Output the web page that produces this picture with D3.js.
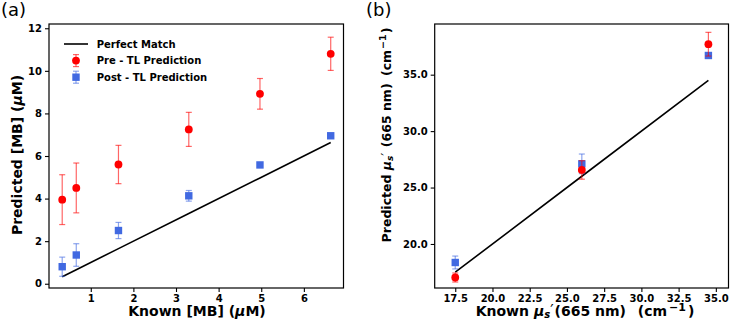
<!DOCTYPE html>
<html>
<head>
<meta charset="utf-8">
<script src="https://cdn.jsdelivr.net/npm/d3@7"></script>
<style>
body { margin: 0; background: #fff; }
text { font-family: "DejaVu Sans", sans-serif; white-space: pre; }
</style>
</head>
<body>
<svg id="fig" width="732" height="326"></svg>
<script>
// panel (a): methylene blue concentration
let mbKnown = [0.33, 0.66, 1.65, 3.3, 4.97, 6.63];
let mbPre = [3.95, 4.5, 5.6, 7.25, 8.92, 10.8];
let mbPreErr = [1.17, 1.17, 0.9, 0.8, 0.72, 0.78];
let mbPost = [0.8, 1.35, 2.5, 4.13, 5.58, 6.95];
let mbPostErr = [0.45, 0.53, 0.38, 0.25, 0.08, 0.08];
let mbTicksX = [1, 2, 3, 4, 5, 6];
let mbTicksY = [0, 2, 4, 6, 8, 10, 12];

// panel (b): reduced scattering at 665 nm
let musKnown = [17.5, 26, 34.5];
let musPre = [17.03, 26.56, 37.7];
let musPreErr = [0.4, 0.82, 1.05];
let musPost = [18.36, 27.1, 36.7];
let musPostErr = [0.57, 0.87, 0.2];
let musTicksX = [17.5, 20, 22.5, 25, 27.5, 30, 32.5, 35];
let musTicksY = [20, 25, 30, 35];

let legendLabels = ["Perfect Match", "Pre - TL Prediction", "Post - TL Prediction"];

let red = "#ff0000",
    blue = "#4169e1";

let svg = d3.select("#fig");

function richText(sel, parts) {
    parts.forEach(function (p) {
        if (typeof p === "string") p = { t: p };
        let ts = sel.append("tspan").text(p.t);
        if (p.i) ts.attr("font-style", "italic");
        if (p.fs) ts.attr("font-size", p.fs);
        if (p.fw) ts.attr("font-weight", p.fw);
        if (p.dy) ts.attr("dy", p.dy);
        if (p.dx) ts.attr("dx", p.dx);
    });
}

function drawPanel(cfg) {
    let g = svg.append("g");
    let x = d3.scaleLinear().domain(cfg.xDomain).range([cfg.left, cfg.right]);
    let y = d3.scaleLinear().domain(cfg.yDomain).range([cfg.bottom, cfg.top]);

    g.append("g")
        .attr("transform", "translate(0," + cfg.bottom + ")")
        .call(d3.axisBottom(x).tickValues(cfg.ticksX).tickFormat(cfg.fmt).tickSize(4).tickPadding(3));
    g.append("g")
        .attr("transform", "translate(" + cfg.left + ",0)")
        .call(d3.axisLeft(y).tickValues(cfg.ticksY).tickFormat(cfg.fmt).tickSize(4).tickPadding(3));
    g.selectAll(".domain").remove();
    g.selectAll(".tick line").attr("stroke", "#000").attr("stroke-width", 1.1);
    g.selectAll(".tick text")
        .attr("font-family", "DejaVu Sans")
        .attr("font-weight", "bold")
        .attr("font-size", 10)
        .attr("fill", "#000");

    // frame
    g.append("rect")
        .attr("x", cfg.left).attr("y", cfg.top)
        .attr("width", cfg.right - cfg.left).attr("height", cfg.bottom - cfg.top)
        .attr("fill", "none").attr("stroke", "#000").attr("stroke-width", 1.2);

    // perfect match line
    let ln = d3.line().x((d) => x(d)).y((d) => y(d));
    g.append("path")
        .attr("d", ln(cfg.known))
        .attr("fill", "none")
        .attr("stroke", "#000")
        .attr("stroke-width", 1.6);

    function errorBars(vals, errs, color) {
        let eb = g.append("g").attr("stroke", color).attr("stroke-opacity", 0.6).attr("stroke-width", 1.2);
        cfg.known.forEach(function (k, i) {
            let cx = x(k);
            eb.append("line").attr("x1", cx).attr("x2", cx)
                .attr("y1", y(vals[i] - errs[i])).attr("y2", y(vals[i] + errs[i]));
            [vals[i] - errs[i], vals[i] + errs[i]].forEach(function (v) {
                eb.append("line").attr("x1", cx - 3).attr("x2", cx + 3)
                    .attr("y1", y(v)).attr("y2", y(v));
            });
        });
    }

    function squares(vals) {
        g.selectAll(null).data(vals).enter().append("rect")
            .attr("x", (d, i) => x(cfg.known[i]) - 3.7)
            .attr("y", (d) => y(d) - 3.7)
            .attr("width", 7.4).attr("height", 7.4)
            .attr("fill", blue);
    }
    function circles(vals) {
        g.selectAll(null).data(vals).enter().append("circle")
            .attr("cx", (d, i) => x(cfg.known[i]))
            .attr("cy", (d) => y(d))
            .attr("r", 3.9)
            .attr("fill", red);
    }

    errorBars(cfg.post, cfg.postErr, blue);
    squares(cfg.post);
    errorBars(cfg.pre, cfg.preErr, red);
    circles(cfg.pre);

    // axis labels
    let xl = g.append("text")
        .attr("x", cfg.xLabelX)
        .attr("y", 316)
        .attr("text-anchor", "middle")
        .attr("font-weight", "bold")
        .attr("font-size", 14);
    richText(xl, cfg.xLabel);

    let yl = g.append("text")
        .attr("transform", "translate(" + cfg.yLabelX + "," + cfg.yLabelY + ") rotate(-90)")
        .attr("text-anchor", "middle")
        .attr("font-weight", "bold")
        .attr("font-size", cfg.yLabelSize);
    richText(yl, cfg.yLabel);

    svg.append("text")
        .attr("x", cfg.tagX).attr("y", 16)
        .attr("font-family", "Liberation Sans")
        .attr("font-size", 18)
        .text(cfg.tag);

    return g;
}

let gA = drawPanel({
    left: 49, right: 343.5, top: 24, bottom: 288,
    xDomain: [0.02, 6.93], yDomain: [-0.2, 12.2],
    ticksX: mbTicksX, ticksY: mbTicksY, fmt: d3.format("d"),
    known: mbKnown, pre: mbPre, preErr: mbPreErr, post: mbPost, postErr: mbPostErr,
    xLabel: ["Known [MB] (", { t: "μ", i: true }, "M)"],
    xLabelX: 197,
    yLabel: ["Predicted [MB] (", { t: "μ", i: true }, "M)"],
    yLabelX: 22, yLabelY: 155, yLabelSize: 14,
    tag: "(a)", tagX: 1
});

drawPanel({
    left: 434.7, right: 728.5, top: 24, bottom: 288,
    xDomain: [16.12, 35.85], yDomain: [16.1, 39.49],
    ticksX: musTicksX, ticksY: musTicksY, fmt: d3.format(".1f"),
    known: musKnown, pre: musPre, preErr: musPreErr, post: musPost, postErr: musPostErr,
    xLabel: ["Known ", { t: "μ", i: true }, { t: "s", i: true, fs: 10, dy: 2 },
        { t: "′", fs: 15, fw: "normal", dy: -2 },
        { t: "(665 nm)", dx: 1 }, { t: "  (cm", dx: 2 }, { t: "−1", fs: 11, dy: -5, dx: 2 }, { t: ")", dy: 5, dx: 2 }],
    xLabelX: 585,
    yLabel: ["Predicted ", { t: "μ", i: true }, { t: "s", i: true, fs: 9, dy: 2 },
        { t: "′", fs: 13.5, fw: "normal", dy: -2 },
        { t: " (665 nm)", dx: 1 }, { t: " (cm", dx: 3 }, { t: "−1", fs: 9.5, dy: -5, dx: 1 }, { t: ")", dy: 5, dx: 1 }],
    yLabelX: 391, yLabelY: 135, yLabelSize: 12.5,
    tag: "(b)", tagX: 366
});

// legend for panel (a)
let leg = gA.append("g").attr("transform", "translate(64,44)");
legendLabels.forEach(function (lab, i) {
    let yy = i * 16.6;
    if (i === 0) {
        leg.append("line").attr("x1", 0).attr("x2", 24).attr("y1", yy).attr("y2", yy)
            .attr("stroke", "#000").attr("stroke-width", 1.6);
    } else {
        let c = i === 1 ? red : blue;
        leg.append("line").attr("x1", 12).attr("x2", 12).attr("y1", yy - 6).attr("y2", yy + 6)
            .attr("stroke", c).attr("stroke-opacity", 0.6).attr("stroke-width", 1.2);
        [yy - 6, yy + 6].forEach(function (v) {
            leg.append("line").attr("x1", 9).attr("x2", 15).attr("y1", v).attr("y2", v)
                .attr("stroke", c).attr("stroke-opacity", 0.6).attr("stroke-width", 1.2);
        });
        if (i === 1) {
            leg.append("circle").attr("cx", 12).attr("cy", yy).attr("r", 3.9).attr("fill", red);
        } else {
            leg.append("rect").attr("x", 12 - 3.7).attr("y", yy - 3.7).attr("width", 7.4).attr("height", 7.4).attr("fill", blue);
        }
    }
    leg.append("text")
        .attr("x", 32.7).attr("y", yy + 3.6)
        .attr("font-weight", "bold")
        .attr("font-size", 10)
        .text(lab);
});
</script>
</body>
</html>
